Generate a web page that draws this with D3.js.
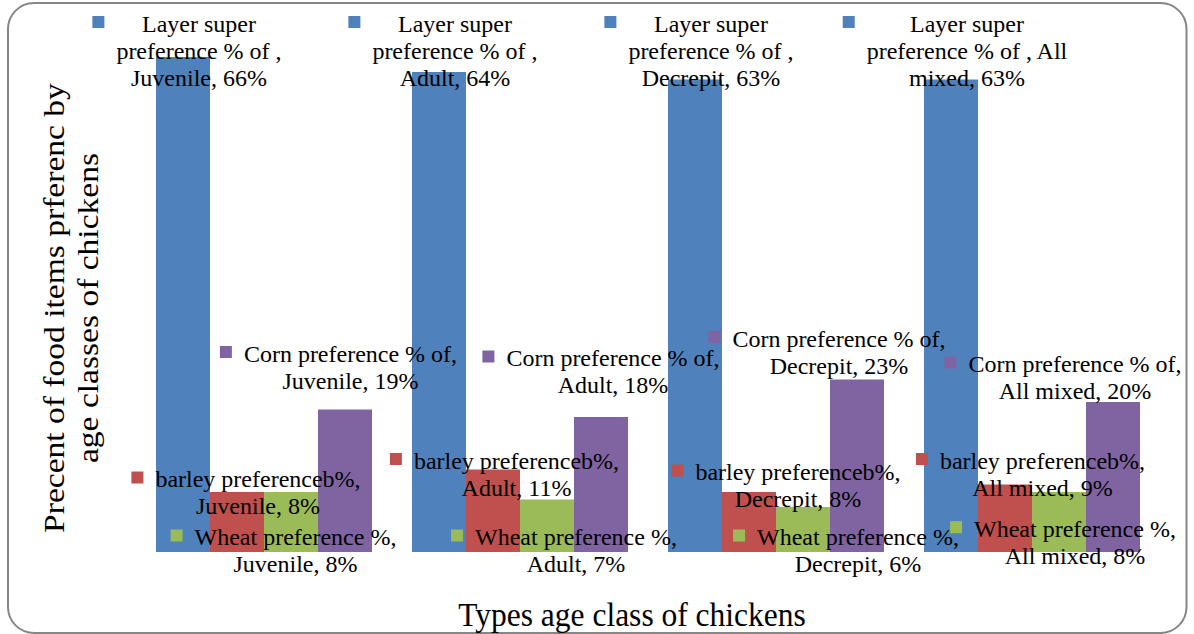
<!DOCTYPE html>
<html>
<head>
<meta charset="utf-8">
<script src="https://cdn.jsdelivr.net/npm/d3@7"></script>
<style>
  html, body { margin: 0; padding: 0; background: #fff; }
  svg { display: block; }
  text { font-family: "Liberation Serif", "Times New Roman", serif; fill: #000; }
</style>
</head>
<body>
<svg id="chart" width="1194" height="634"></svg>
<script>
// ---- data ----
const categories = ["Juvenile", "Adult", "Decrepit", "All mixed"];
const seriesNames = ["Layer super preference % of ", "barley preferenceb%", "Wheat preference %", "Corn preference % of"];
const layerValues = [66, 64, 63, 63];
const barleyValues = [8, 11, 8, 9];
const wheatValues = [8, 7, 6, 8];
const cornValues = [19, 18, 23, 20];
const yAxisTitle = ["Precent of food items prferenc by", "age classes of chickens"];
const xAxisTitle = "Types age class of chickens";

// ---- styling / layout ----
const seriesColors = ["#4F81BD", "#C0504D", "#9BBB59", "#8064A2"];
// hand-placed data labels: [dx from bar centre, dy of first baseline from bar top]
const labelNudge = [
  [[16, -50], [16, -50], [16, -50], [16, -50]],
  [[21, -5], [23.5, -1], [49, -12], [37.5, -16]],
  [[4.5, 53], [29, 45.5], [55, 38], [16, 44.7]],
  [[5.5, -48], [12, -51], [-18, -33], [-38, -30]]
];

const values = [layerValues, barleyValues, wheatValues, cornValues];
const svg = d3.select("#chart");

// chart frame
svg.append("rect")
  .attr("x", 8).attr("y", 3).attr("width", 1178.5).attr("height", 630)
  .attr("rx", 26).attr("ry", 26)
  .attr("fill", "#fff").attr("stroke", "#868686").attr("stroke-width", 2);

// scales
const x0 = d3.scaleBand().domain(categories).range([136, 1160])
  .paddingInner(0.15625).paddingOuter(0.078125);
const x1 = d3.scaleBand().domain(d3.range(seriesNames.length)).range([0, x0.bandwidth()]);
const y = d3.scaleLinear().domain([0, 70]).range([552, 27]);

const rows = [];
categories.forEach((c, ci) => values.forEach((vals, si) => rows.push({ c, ci, si, v: vals[ci] })));

// bars
svg.append("g").selectAll("rect").data(rows).join("rect")
  .attr("x", d => x0(d.c) + x1(d.si))
  .attr("y", d => y(d.v))
  .attr("width", x1.bandwidth())
  .attr("height", d => y(0) - y(d.v))
  .attr("fill", d => seriesColors[d.si]);

// data labels with legend keys
const LINE = 27, MAXW = 217, KEY = 12, GAP = 12, TOPLINE = 31.5;
const labels = svg.append("g").attr("font-size", 24);
const probe = labels.append("text").attr("visibility", "hidden");
const measure = s => { probe.text(s); return probe.node().getComputedTextLength(); };

function wrap(str) {
  const words = str.split(" ").filter(w => w.length);
  const lines = [];
  let cur = "";
  words.forEach(w => {
    const trial = cur ? cur + " " + w : w;
    if (cur && measure(trial) > MAXW) { lines.push(cur); cur = w; }
    else cur = trial;
  });
  if (cur) lines.push(cur);
  return lines;
}

rows.forEach(d => {
  const str = `${seriesNames[d.si]}, ${d.c}, ${d.v}%`;
  const [dx, dy] = labelNudge[d.si][d.ci];
  const cx = x0(d.c) + x1(d.si) + x1.bandwidth() / 2 + dx;
  const b1 = Math.max(y(d.v) + dy, TOPLINE);
  const lines = wrap(str);
  const widest = d3.max(lines, measure);
  labels.append("rect")
    .attr("x", cx - widest / 2 - GAP - KEY)
    .attr("y", b1 - 15.5)
    .attr("width", KEY).attr("height", KEY)
    .attr("fill", seriesColors[d.si]);
  const t = labels.append("text").attr("text-anchor", "middle");
  lines.forEach((ln, i) => {
    t.append("tspan").attr("x", cx).attr("y", b1 + i * LINE).text(ln);
  });
});
probe.remove();

// axis titles
svg.append("text")
  .attr("text-anchor", "middle")
  .attr("font-size", 31.5)
  .attr("transform", "translate(632,626) scale(1,1.1)")
  .text(xAxisTitle);

const yt = svg.append("text")
  .attr("text-anchor", "middle")
  .attr("font-size", 30.5)
  .attr("transform", "translate(64,308) rotate(-90) scale(1.1,1)");
yAxisTitle.forEach((ln, i) => {
  yt.append("tspan").attr("x", 0).attr("y", i * 34).text(ln);
});
</script>
</body>
</html>
